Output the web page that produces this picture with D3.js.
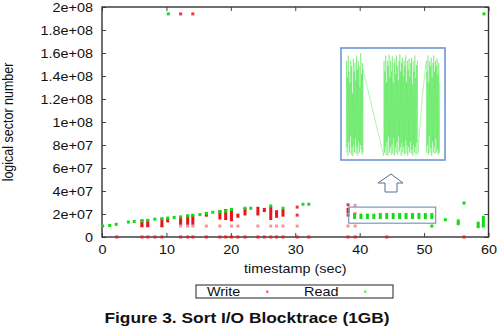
<!DOCTYPE html>
<html>
<head>
<meta charset="utf-8">
<script src="https://cdn.jsdelivr.net/npm/d3@7"></script>
<style>
  body { margin: 0; background: #fff; }
  text { font-family: "Liberation Sans", Arial, sans-serif; fill: #111; }
</style>
</head>
<body>
<svg id="chart"></svg>
<script>
// tick values and labels
const xTicks = [0, 10, 20, 30, 40, 50, 60];
const yTicks = [0, 2e7, 4e7, 6e7, 8e7, 1e8, 1.2e8, 1.4e8, 1.6e8, 1.8e8, 2e8];
const yTickLabels = ["0", "2e+07", "4e+07", "6e+07", "8e+07", "1e+08", "1.2e+08", "1.4e+08", "1.6e+08", "1.8e+08", "2e+08"];

// write requests: single points [t, sector]
const writePoints = [
  [2.3, 0], [6.2, 0], [7.1, 0], [8.2, 0], [9.3, 0], [12.2, 0], [13.3, 0], [14.1, 0],
  [16.2, 0], [18.3, 0], [19.2, 0], [20.1, 0], [21.1, 0], [22.2, 0], [24.2, 0], [25.2, 0],
  [26.2, 0], [27.1, 0], [28.1, 0], [30.3, 0], [32.1, 0], [38.2, 0], [39.3, 0], [44.2, 0], [56.2, 0],
  [12.2, 1.94e8], [14.1, 1.94e8], [30.3, 1.9e7], [30.3, 2.6e7], [38.2, 2.8e7], [38.2, 1.9e7]
];
// lighter write points (the rows around 1e7)
const writeFaint = [
  [6.2, 0.95e7], [7.1, 0.95e7], [9.3, 0.95e7], [12.2, 0.95e7], [13.3, 0.95e7], [14.1, 0.95e7],
  [16.2, 0.95e7], [18.3, 0.95e7], [20.1, 0.95e7], [21.1, 0.95e7], [24.2, 0.95e7], [26.2, 0.95e7],
  [27.1, 0.95e7], [28.1, 0.95e7], [30.3, 0.95e7], [38.2, 0.95e7], [39.3, 0.95e7],
  [39.3, 2.75e7], [39.3, 2.05e7]
];
// dense write columns [t, low, high]
const writeRuns = [
  [6.2, 1.0e7, 1.4e7], [7.1, 1.0e7, 1.4e7], [9.3, 1.0e7, 1.5e7], [10.2, 1.4e7, 1.5e7],
  [12.2, 1.2e7, 1.7e7], [13.3, 1.2e7, 1.8e7], [14.1, 1.2e7, 1.8e7], [16.2, 1.9e7, 2.0e7],
  [18.3, 1.65e7, 2.2e7], [19.2, 1.6e7, 2.3e7], [20.1, 1.5e7, 2.3e7], [21.1, 1.8e7, 1.9e7],
  [22.2, 2.0e7, 2.4e7], [24.2, 2.0e7, 2.5e7], [25.2, 2.3e7, 2.4e7], [26.2, 1.6e7, 2.5e7],
  [27.1, 1.8e7, 2.2e7], [28.1, 1.9e7, 2.3e7], [38.2, 2.2e7, 2.4e7]
];

// read requests
const readPoints = [
  [0.1, 0.96e7], [1.2, 1.0e7], [2.2, 1.1e7], [4.1, 1.3e7], [5.0, 1.35e7], [6.2, 1.4e7],
  [7.1, 1.45e7], [8.2, 1.55e7], [9.3, 1.6e7], [10.2, 1.65e7], [11.2, 1.7e7], [12.2, 1.75e7],
  [13.3, 1.85e7], [14.1, 1.9e7], [15.2, 1.95e7], [16.2, 2.05e7], [17.2, 2.15e7], [18.3, 2.2e7],
  [19.2, 2.25e7], [20.1, 2.4e7], [22.2, 2.5e7], [23.1, 2.5e7], [26.2, 2.7e7], [28.1, 2.5e7],
  [31.2, 2.85e7], [32.1, 2.85e7], [51.2, 0.95e7], [53.3, 1.5e7], [55.3, 1.15e7], [56.2, 2.95e7],
  [10.3, 1.94e8], [59.3, 1.94e8]
];
const readRuns = [
  [39.2, 1.7e7, 1.95e7], [40.2, 1.7e7, 1.9e7], [41.2, 1.7e7, 1.9e7], [42.2, 1.7e7, 1.9e7],
  [43.2, 1.7e7, 1.95e7], [44.2, 1.7e7, 1.95e7], [45.2, 1.7e7, 1.95e7], [46.2, 1.7e7, 1.95e7],
  [47.2, 1.7e7, 1.95e7], [48.2, 1.7e7, 1.95e7], [49.2, 1.7e7, 1.95e7], [50.2, 1.7e7, 1.95e7],
  [51.2, 1.7e7, 1.95e7], [55.3, 1.3e7, 1.4e7], [58.4, 0.9e7, 1.2e7], [59.2, 0.95e7, 1.7e7]
];

// zoomed inset trace, local units: x 0..100 across the inset, y 0..1 bottom to top
const insetTrace = [
  [5,.05],[5.4,.9],[5.8,.1],[6.2,.75],[6.6,.02],[7,.95],[7.4,.15],[7.8,.8],[8.2,.05],[8.6,.7],
  [9,.2],[9.4,.9],[9.8,.03],[10.2,.85],[10.6,.1],[11,.6],[11.4,.02],[11.8,.92],[12.2,.12],[12.6,.8],
  [13,.05],[13.4,.88],[13.8,.18],[14.2,.72],[14.6,.04],[15,.95],[15.4,.1],[15.8,.82],[16.2,.02],[16.6,.9],
  [17,.15],[17.4,.85],[17.8,.05],[18.2,.66],[18.6,.12],[19,.97],[19.4,.08],[19.8,.78],[20.2,.03],[20.6,.88],
  [21,.05],[21.2,.82],[41,.02],
  [41.4,.9],[41.8,.05],[42.2,.8],[42.6,.1],[43,.95],[43.4,.03],[43.8,.7],[44.2,.15],[44.6,.9],[45,.02],
  [45.4,.85],[45.8,.2],[46.2,.96],[46.6,.05],[47,.75],[47.4,.1],[47.8,.9],[48.2,.03],[48.6,.8],[49,.12],
  [49.4,.94],[49.8,.04],[50.2,.7],[50.6,.18],[51,.88],[51.4,.02],[51.8,.92],[52.2,.1],[52.6,.78],[53,.05],
  [53.4,.95],[53.8,.15],[54.2,.85],[54.6,.03],[55,.72],[55.4,.2],[55.8,.9],[56.2,.06],[56.6,.96],[57,.1],
  [57.4,.8],[57.8,.02],[58.2,.88],[58.6,.14],[59,.93],[59.4,.05],[59.8,.76],[60.2,.1],[60.6,.9],[61,.03],
  [61.4,.85],[61.8,.16],[62.2,.95],[62.6,.04],[63,.7],[63.4,.12],[63.8,.9],[64.2,.02],[64.6,.82],[65,.1],
  [65.4,.92],[65.8,.05],[66.2,.75],[66.6,.15],[67,.88],[67.4,.04],[67.8,.93],[68.2,.08],[68.6,.68],[69,.02],
  [69.4,.9],[69.8,.12],[70.2,.8],[70.6,.05],[71,.95],[71.4,.1],[71.8,.74],[72.2,.03],[72.6,.86],[73,.14],
  [73.4,.9],[74,.04],[78,.55],
  [82,.9],[82.4,.05],[82.8,.8],[83.2,.12],[83.6,.95],[84,.03],[84.4,.7],[84.8,.2],[85.2,.9],[85.6,.05],
  [86,.85],[86.4,.1],[86.8,.93],[87.2,.02],[87.6,.75],[88,.15],[88.4,.88],[88.8,.05],[89.2,.95],[89.6,.1],
  [90,.8],[90.4,.04],[90.8,.9],[91.2,.18],[91.6,.85],[92,.05],[92.4,.92],[92.8,.08],[93.2,.78],[93.6,.03],
  [94,.88],[94.5,.05],[95,.7]
];

const width = 501, height = 326;
const stretch = 1.2; // the source picture is a bit wider than tall text would be

const svg = d3.select("#chart").attr("width", width).attr("height", height);

const x = d3.scaleLinear().domain([0, 60]).range([102, 488.5]);
const y = d3.scaleLinear().domain([0, 2e8]).range([237, 7]);

const red = "#e8141c", green = "#14dc14";

// axes (inward ticks on all four sides, gnuplot style)
const gx = svg.append("g").attr("transform", `translate(0,${y(0)})`)
  .call(d3.axisBottom(x).tickValues(xTicks).tickSize(-4).tickPadding(8));
const gy = svg.append("g").attr("transform", `translate(${x(0)},0)`)
  .call(d3.axisLeft(y).tickValues(yTicks).tickSize(-4).tickPadding(7.5)
    .tickFormat((d, i) => yTickLabels[i]));
svg.append("g").attr("transform", `translate(0,${y(2e8)})`)
  .call(d3.axisTop(x).tickValues(xTicks).tickSize(-4).tickFormat(""));
svg.append("g").attr("transform", `translate(${x(60)},0)`)
  .call(d3.axisRight(y).tickValues(yTicks).tickSize(-4).tickFormat(""));

svg.selectAll(".domain").remove();
svg.selectAll(".tick line").attr("stroke", "#444");
svg.selectAll(".tick text").attr("font-size", 12)
  .attr("font-family", "Liberation Sans, Arial, sans-serif").attr("fill", "#111")
  .attr("transform", `scale(${stretch},1)`);
gy.selectAll(".tick text").attr("dy", "0.35em");

// frame
svg.append("rect")
  .attr("x", x(0)).attr("y", y(2e8))
  .attr("width", x(60) - x(0)).attr("height", y(0) - y(2e8))
  .attr("fill", "none").attr("stroke", "#333").attr("stroke-width", 1.4);

// marks
const plot = svg.append("g");
plot.selectAll(".wf").data(writeFaint).join("rect")
  .attr("x", d => x(d[0]) - 1.5).attr("y", d => y(d[1]) - 1.5)
  .attr("width", 3).attr("height", 3).attr("fill", red).attr("opacity", 0.45);
plot.selectAll(".wr").data(writeRuns).join("rect")
  .attr("x", d => x(d[0]) - 1.5).attr("y", d => y(d[2]) - 1.5)
  .attr("width", 3).attr("height", d => y(d[1]) - y(d[2]) + 3).attr("fill", red);
plot.selectAll(".wp").data(writePoints).join("rect")
  .attr("x", d => x(d[0]) - 1.5).attr("y", d => y(d[1]) - 1.5)
  .attr("width", 3).attr("height", 3).attr("fill", red).attr("opacity", 0.85);
plot.selectAll(".rr").data(readRuns).join("rect")
  .attr("x", d => x(d[0]) - 1.5).attr("y", d => y(d[2]) - 1.5)
  .attr("width", 3).attr("height", d => y(d[1]) - y(d[2]) + 3).attr("fill", green);
plot.selectAll(".rp").data(readPoints).join("rect")
  .attr("x", d => x(d[0]) - 1.5).attr("y", d => y(d[1]) - 1.5)
  .attr("width", 3).attr("height", 3).attr("fill", green);

// highlight box around the sequential reads
svg.append("rect")
  .attr("x", x(38.3)).attr("y", y(2.6e7))
  .attr("width", x(51.8) - x(38.3)).attr("height", y(1.2e7) - y(2.6e7))
  .attr("fill", "none").attr("stroke", "#7f98bd").attr("stroke-width", 1.2);

// arrow pointing up to the inset
svg.append("path")
  .attr("d", "M385,192 L397,192 L397,183 L403,183 L391,174 L378,183 L385,183 Z")
  .attr("fill", "#fff").attr("stroke", "#5a6f8f").attr("stroke-width", 1);

// inset
const ix = d3.scaleLinear().domain([0, 100]).range([341, 445]);
const iy = d3.scaleLinear().domain([0, 1]).range([158, 50]);
svg.append("rect").attr("x", 341).attr("y", 48).attr("width", 104).attr("height", 112)
  .attr("fill", "#fff");
svg.append("path")
  .datum(insetTrace)
  .attr("d", d3.line().x(d => ix(d[0])).y(d => iy(d[1])))
  .attr("fill", "none").attr("stroke", "#22e022").attr("stroke-width", 0.5).attr("opacity", 0.7);
svg.append("rect").attr("x", 341).attr("y", 48).attr("width", 104).attr("height", 112)
  .attr("fill", "none").attr("stroke", "#6d96d2").attr("stroke-width", 1.6);

// axis titles
svg.append("text")
  .attr("transform", `translate(${(x(0) + x(60)) / 2},273) scale(${stretch},1)`)
  .attr("text-anchor", "middle").attr("font-size", 12).text("timestamp (sec)");
svg.append("text")
  .attr("transform", `translate(12.5,${(y(0) + y(2e8)) / 2}) scale(${stretch},1) rotate(-90)`)
  .attr("text-anchor", "middle").attr("font-size", 12.5).text("logical sector number");

// legend
svg.append("rect").attr("x", 196).attr("y", 285).attr("width", 197).attr("height", 13)
  .attr("fill", "#fff").attr("stroke", "#222").attr("stroke-width", 1);
svg.append("text").attr("transform", `translate(207,296) scale(${stretch},1)`)
  .attr("font-size", 12).text("Write");
svg.append("rect").attr("x", 266).attr("y", 290.5).attr("width", 2.5).attr("height", 2.5)
  .attr("fill", red).attr("opacity", 0.6);
svg.append("text").attr("transform", `translate(304,296) scale(${stretch},1)`)
  .attr("font-size", 12).text("Read");
svg.append("rect").attr("x", 364).attr("y", 290.5).attr("width", 2.5).attr("height", 2.5)
  .attr("fill", green).attr("opacity", 0.6);

// caption
svg.append("text").attr("transform", "translate(247,323) scale(1.24,1)")
  .attr("text-anchor", "middle").attr("font-size", 14).attr("font-weight", "bold")
  .text("Figure 3. Sort I/O Blocktrace (1GB)");
</script>
</body>
</html>
